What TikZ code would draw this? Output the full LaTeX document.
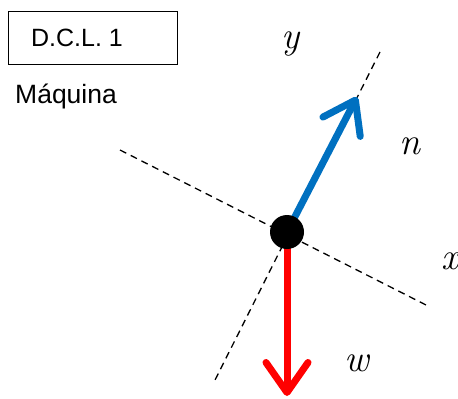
\documentclass[tikz,border=0pt]{standalone}
\usepackage{fontspec}
\newfontfamily\arialf{Liberation Sans}
\usetikzlibrary{arrows.meta}
\definecolor{wblue}{RGB}{0,112,192}
\begin{document}
\begin{tikzpicture}[x=1pt,y=-1pt,
  axis/.style={black,line width=1.3pt,dash pattern=on 7pt off 5pt},
  force/.style={line width=7pt,-{Straight Barb[length=30pt,width=42pt,line cap=round,line join=round]}},
  lbl/.style={inner sep=0pt,font=\fontsize{38}{38}\selectfont\itshape}]
\useasboundingbox (0,0) rectangle (458,399);
\node[draw,line width=1pt,minimum width=169pt,minimum height=53pt,inner sep=0pt] (box) at (92.5,37.5) {};
\node[font=\arialf\fontsize{25}{25}\selectfont,inner sep=0pt] (t) at (77,38) {D.C.L. 1};
\node[font=\arialf\fontsize{26.5}{26}\selectfont,inner sep=0pt,anchor=base west] (maq) at (15,103) {Máquina};
\coordinate (O) at (287,232);
\coordinate (ya) at (380,52);
\coordinate (yb) at (213,384);
\coordinate (xa) at (120,150);
\coordinate (xb) at (428,306);
\draw[axis] (ya) -- (yb);
\draw[axis] (xa) -- (xb);
\draw[force,wblue] (O) -- (357,97) coordinate (n);
\draw[force,red] (O) -- (287,396) coordinate (w);
\fill[black] (O) circle (17pt);
\node[lbl] (ly) at (291,44) {y};
\node[lbl] (ln) at (410,146) {n};
\node[lbl] (lx) at (450,261) {x};
\node[lbl] (lw) at (357,363) {w};
\end{tikzpicture}
\end{document}
